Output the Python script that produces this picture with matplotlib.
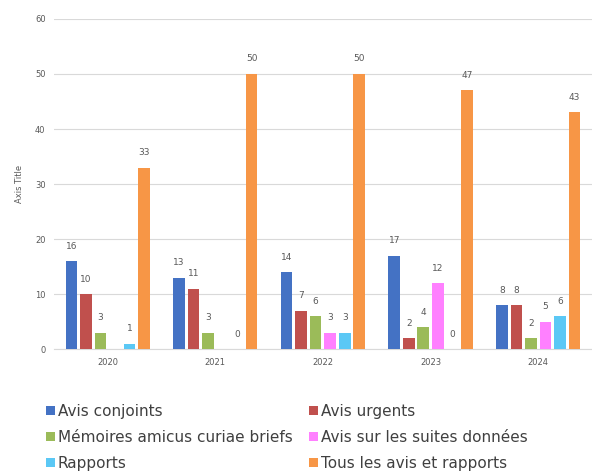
import numpy as np
import matplotlib.pyplot as plt

years = ['2020', '2021', '2022', '2023', '2024']
series = ['Avis conjoints', 'Avis urgents', 'Mémoires amicus curiae briefs',
          'Avis sur les suites données', 'Rapports', 'Tous les avis et rapports']
avis_conjoints = [16, 13, 14, 17, 8]
avis_urgents = [10, 11, 7, 2, 8]
memoires = [3, 3, 6, 4, 2]
suites = [np.nan, np.nan, 3, 12, 5]
rapports = [1, 0, 3, 0, 6]
tous = [33, 50, 50, 47, 43]
colors = ['#4472C4', '#C0504D', '#9BBB59', '#FF80FF', '#5BC8F5', '#F79646']

data = [avis_conjoints, avis_urgents, memoires, suites, rapports, tous]

fig = plt.figure(figsize=(5.92, 4.72), dpi=100)
ax = fig.add_axes([0.091, 0.26, 0.909, 0.70])

x = np.arange(len(years))
step = 0.135
width = 0.108
handles = []
for i, (vals, name, c) in enumerate(zip(data, series, colors)):
    pos = x + (i - 2.5) * step
    bars = ax.bar(pos, vals, width, color=c, label=name, zorder=3)
    handles.append(bars)
    for p, v in zip(pos, vals):
        if np.isnan(v):
            continue
        ax.text(p, v + 1.9, str(int(v)), ha='center', va='bottom',
                fontsize=6.5, color='#595959')

ax.set_ylim(0, 60)
ax.set_xlim(-0.5, 4.5)
ax.set_yticks(range(0, 61, 10))
ax.set_xticks(x)
ax.set_xticklabels(years)
ax.tick_params(axis='both', length=0, labelsize=6, colors='#595959', pad=6)
ax.grid(axis='y', color='#D9D9D9', linewidth=0.8, zorder=0)
for s in ['top', 'right', 'left']:
    ax.spines[s].set_visible(False)
ax.spines['bottom'].set_color('#D9D9D9')
ax.set_ylabel('Axis Title', fontsize=6, color='#595959', labelpad=8)

# matplotlib fills legend column-wise, reference reads row-wise
order = [0, 2, 4, 1, 3, 5]
fig.legend([handles[i] for i in order], [series[i] for i in order],
           loc='upper left', bbox_to_anchor=(0.065, 0.16), ncol=2,
           frameon=False, fontsize=11, handlelength=0.55, handleheight=0.55,
           handletextpad=0.2, columnspacing=1.1, labelspacing=0.7,
           borderpad=0, labelcolor='#404040')

fig.savefig('out.png', dpi=100)
